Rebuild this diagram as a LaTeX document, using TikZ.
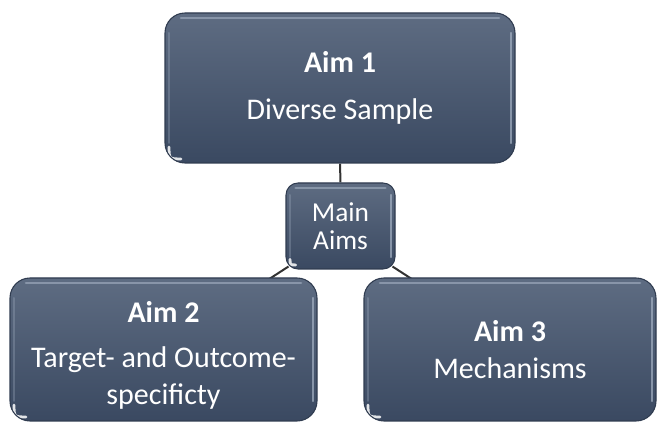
\documentclass[tikz,border=0pt]{standalone}
\usepackage{fontspec}
\setmainfont{Carlito}
\usetikzlibrary{backgrounds}

\definecolor{boxtop}{RGB}{94,108,130}
\definecolor{boxbot}{RGB}{58,73,97}
\definecolor{boxedge}{RGB}{48,60,80}
\definecolor{linkcol}{RGB}{50,50,50}
\definecolor{glint}{RGB}{165,178,196}

\tikzset{
  % bevelled slate box; #1 = corner radius in px
  aimbox/.style={
    draw=boxedge, line width=0.8pt, rounded corners={#1*0.75pt},
    top color=boxtop, bottom color=boxbot,
    text=white, align=center, inner sep=0pt,
    path picture={
      % highlight along the top edge
      \draw[glint, line width=2pt, opacity=.6, line cap=round]
        ([shift={(#1*0.8,5)}]path picture bounding box.north west) --
        ([shift={(-#1*0.8,5)}]path picture bounding box.north east);
      % light right edge
      \draw[glint, line width=1.8pt, opacity=.7, line cap=round]
        ([shift={(-4,#1)}]path picture bounding box.north east) --
        ([shift={(-4,-#1)}]path picture bounding box.south east);
      % faint left edge
      \draw[glint, line width=1.5pt, opacity=.3, line cap=round]
        ([shift={(4,#1)}]path picture bounding box.north west) --
        ([shift={(4,-#1)}]path picture bounding box.south west);
      % glint on the lower left corner
      \draw[white, line width=2.2pt, opacity=.85, line cap=round]
        ([shift={(4,-#1*0.8)}]path picture bounding box.south west) ..
        controls ([shift={(4,-4)}]path picture bounding box.south west) ..
        ([shift={(#1*0.8,-4)}]path picture bounding box.south west);
    }},
  link/.style={draw=linkcol, line width=1.5pt},
  bigtext/.style={font=\fontsize{22.5}{27.7}\selectfont},
}

\begin{document}
\begin{tikzpicture}[x=0.75pt, y=-0.75pt]
  \useasboundingbox (0,0) rectangle (658,423);

  \node[aimbox=20, bigtext, minimum width=262.5pt, minimum height=112.5pt]
    (aim1) at (340,88) {\textbf{Aim 1}\\[7.5pt]Diverse Sample};

  \node[aimbox=12, font=\fontsize{20.5}{21}\selectfont,
        minimum width=81.75pt, minimum height=64.5pt]
    (main) at (340.5,226) {Main\\Aims};

  \node[aimbox=20, bigtext, minimum width=230.25pt, minimum height=107.25pt]
    (aim2) at (163.5,349.5)
    {\rule{0pt}{25pt}\textbf{Aim 2}\\[6pt]Target- and Outcome-\\specificty};

  \node[aimbox=20, bigtext, minimum width=219pt, minimum height=107.25pt]
    (aim3) at (510,349.5) {\textbf{Aim 3}\\Mechanisms};

  \begin{scope}[on background layer]
    \draw[link] (aim1.south) -- (main.north);
    \draw[link] ([shift={(3,-3)}]main.south west) -- ([shift={(-49,2)}]aim2.north east);
    \draw[link] ([shift={(-3,-3)}]main.south east) -- ([shift={(49,2)}]aim3.north west);
  \end{scope}
\end{tikzpicture}
\end{document}
